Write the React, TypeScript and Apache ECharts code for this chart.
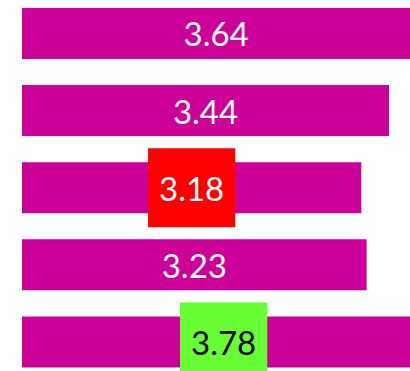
import React, { useEffect, useRef } from "react";
import * as echarts from "echarts";

const categories = ["A", "B", "C", "D", "E"];
const values = [3.64, 3.44, 3.18, 3.23, 3.78];
const highlightLow = 3.18;
const highlightHigh = 3.78;

export default function App() {
  const ref = useRef<HTMLDivElement>(null);
  useEffect(() => {
    if (!ref.current) return;
    const chart = echarts.init(ref.current, undefined, { renderer: "svg" });
    const baseLabel = {
      show: true,
      position: "inside",
      fontFamily: "Lato",
      fontSize: 33,
      color: "#ffffff",
    };
    const data = values.map((v) => {
      if (v === highlightLow) {
        return {
          value: v,
          label: { ...baseLabel, backgroundColor: "#ff0000", padding: [23, 11, 23, 11] },
        };
      }
      if (v === highlightHigh) {
        return {
          value: v,
          label: { ...baseLabel, color: "#000000", backgroundColor: "#66ff33", padding: [23, 11, 23, 11] },
        };
      }
      return { value: v };
    });
    chart.setOption({
      animation: false,
      grid: {
        left: 22,
        top: -5.1,
        width: 426.8,
        height: 385.6,
        containLabel: false,
        outerBoundsMode: "none",
      },
      xAxis: {
        type: "value",
        min: 0,
        max: 4,
        show: false,
      },
      yAxis: {
        type: "category",
        data: categories,
        inverse: true,
        show: false,
      },
      series: [
        {
          type: "bar",
          data,
          barWidth: 51,
          clip: false,
          itemStyle: { color: "#cc0099" },
          label: baseLabel,
        },
      ],
    });
    return () => chart.dispose();
  }, []);
  return (
    <div
      ref={ref}
      style={{ position: "absolute", left: 0, top: 0, width: 410, height: 371, overflow: "hidden" }}
    />
  );
}
